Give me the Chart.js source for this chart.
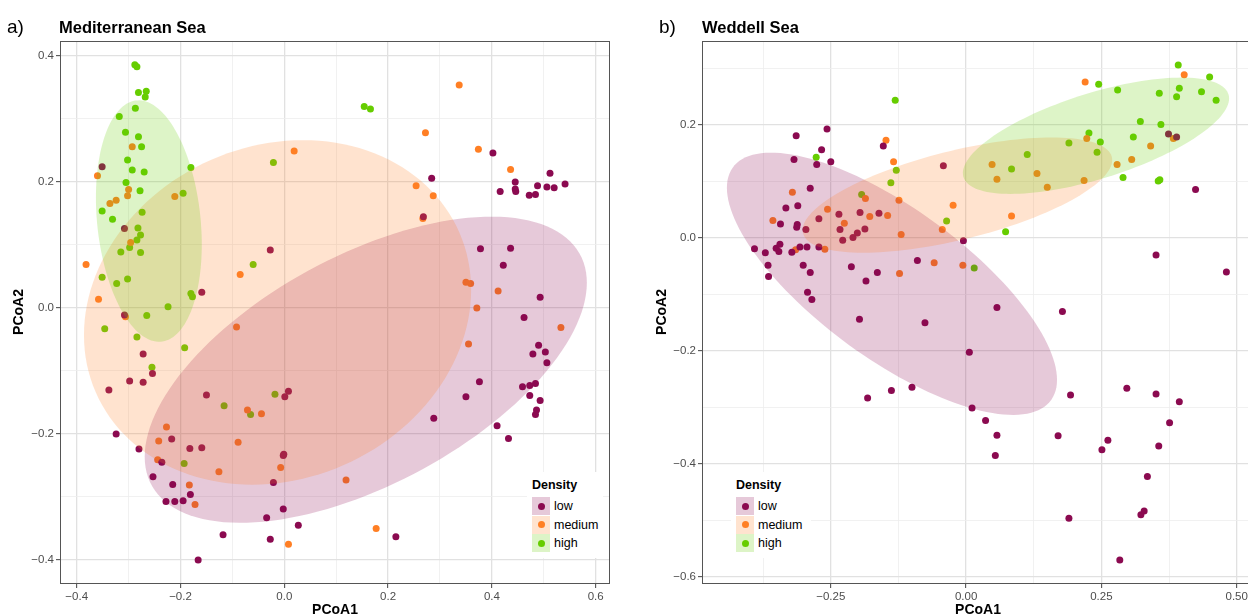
<!DOCTYPE html>
<html>
<head>
<meta charset="utf-8">
<script src="https://cdn.jsdelivr.net/npm/chart.js@4.4.1/dist/chart.umd.min.js"></script>
<style>
  html, body { margin: 0; padding: 0; background: #fff; }
  body { width: 1248px; height: 616px; overflow: hidden; position: relative;
         font-family: "Liberation Sans", Arial, Helvetica, sans-serif; color: #000; }
  canvas { position: absolute; top: 0; }
  .txt { position: absolute; white-space: nowrap; line-height: 1; }
  .tag { font-size: 19px; }
  .title { font-size: 16.5px; font-weight: bold; }
  .axt { font-size: 14px; font-weight: bold; width: 100px; text-align: center; }
  .ylab { height: 16px; line-height: 16px; transform: rotate(-90deg); }
  .legend { position: absolute; background: #fff; }
  .legend .head { position: absolute; left: 5px; top: 7px; font-size: 12.5px; font-weight: bold; line-height: 1; }
  .legend .key { position: absolute; left: 5px; width: 18px; height: 18px; }
  .legend .dot { position: absolute; left: 5.5px; top: 5.5px; width: 7px; height: 7px; border-radius: 50%; }
  .legend .lab { position: absolute; left: 27px; font-size: 12.5px; line-height: 18px; }
</style>
</head>
<body>
<canvas id="chartA" width="625" height="616" style="left:0"></canvas>
<canvas id="chartB" width="625" height="616" style="left:640px"></canvas>

<div class="txt tag" style="left:7px; top:17px">a)</div>
<div class="txt title" style="left:59px; top:19px">Mediterranean Sea</div>
<div class="txt tag" style="left:659px; top:17px">b)</div>
<div class="txt title" style="left:702px; top:19px">Weddell Sea</div>

<div class="txt axt" style="left:285px; top:602px">PCoA1</div>
<div class="txt axt" style="left:928px; top:602px">PCoA1</div>
<div class="txt axt ylab" style="left:-32px; top:304px">PCoA2</div>
<div class="txt axt ylab" style="left:611px; top:304px">PCoA2</div>

<div class="legend" id="legendA" style="left:527px; top:472px; width:76px; height:86px"></div>
<div class="legend" id="legendB" style="left:731px; top:472px; width:80px; height:86px"></div>

<script>
const groups = ['low', 'medium', 'high'];
const pointColors = ['#8B0A50', '#FF7F24', '#66CD00'];
const fillAlpha = 0.22;

// Mediterranean Sea
const medLowX = [-0.351, 0.402, 0.284, 0.512, 0.445, 0.488, 0.506, 0.520, 0.541, 0.416, 0.445, 0.446, 0.472, 0.484, 0.268, -0.308, -0.027, -0.159, -0.308, -0.272, -0.254, -0.298, -0.272, -0.338, -0.150, 0.008, 0.001, 0.378, 0.436, 0.422, 0.493, 0.462, 0.490, 0.479, 0.503, 0.506, 0.376, 0.459, 0.473, 0.484, 0.473, 0.493, 0.350, 0.486, 0.484, 0.288, 0.410, 0.432, -0.324, -0.217, -0.182, -0.159, -0.280, -0.236, -0.253, -0.215, -0.181, -0.228, -0.211, -0.195, -0.002, -0.001, -0.021, -0.002, -0.034, 0.027, -0.118, -0.027, -0.166, 0.215];
const medLowY = [0.224, 0.246, 0.206, 0.214, 0.200, 0.194, 0.192, 0.191, 0.197, 0.185, 0.189, 0.185, 0.179, 0.180, 0.145, 0.126, 0.092, 0.025, -0.011, -0.073, -0.104, -0.116, -0.118, -0.130, -0.138, -0.132, -0.141, 0.094, 0.095, 0.068, 0.017, -0.015, -0.059, -0.073, -0.070, -0.087, -0.117, -0.125, -0.123, -0.120, -0.139, -0.147, -0.141, -0.162, -0.169, -0.175, -0.187, -0.207, -0.200, -0.208, -0.223, -0.222, -0.224, -0.245, -0.268, -0.280, -0.296, -0.307, -0.307, -0.306, -0.234, -0.232, -0.277, -0.319, -0.333, -0.345, -0.360, -0.367, -0.400, -0.363];
const medMediumX = [-0.293, -0.360, -0.300, -0.302, 0.019, -0.211, -0.324, -0.336, 0.337, 0.272, 0.374, 0.436, 0.254, 0.287, 0.267, -0.296, -0.382, -0.085, -0.358, -0.306, -0.092, 0.350, 0.359, 0.412, 0.371, 0.533, 0.355, -0.227, -0.242, -0.244, -0.089, -0.071, -0.044, -0.126, -0.007, -0.183, -0.172, 0.008, 0.119, 0.177];
const medMediumY = [0.256, 0.210, 0.188, 0.178, 0.249, 0.177, 0.171, 0.166, 0.354, 0.278, 0.252, 0.220, 0.194, 0.178, 0.142, 0.104, 0.069, 0.053, 0.014, -0.014, -0.030, 0.041, 0.039, 0.027, 0.000, -0.031, -0.057, -0.189, -0.211, -0.241, -0.213, -0.162, -0.168, -0.260, -0.253, -0.281, -0.312, -0.375, -0.273, -0.350];
const medHighX = [-0.288, -0.284, -0.281, -0.266, -0.268, -0.287, -0.318, -0.306, -0.281, -0.275, -0.302, -0.293, -0.270, -0.305, -0.278, -0.180, -0.195, -0.021, 0.154, 0.166, -0.351, -0.274, -0.331, -0.282, -0.277, -0.284, -0.298, -0.315, -0.277, -0.060, -0.351, -0.323, -0.302, -0.180, -0.177, -0.224, -0.265, -0.346, -0.284, -0.192, -0.255, -0.018, -0.116, -0.065, -0.193];
const medHighY = [0.386, 0.383, 0.342, 0.344, 0.335, 0.317, 0.304, 0.279, 0.272, 0.256, 0.235, 0.219, 0.216, 0.199, 0.186, 0.223, 0.182, 0.231, 0.320, 0.316, 0.154, 0.152, 0.141, 0.127, 0.116, 0.108, 0.096, 0.089, 0.088, 0.069, 0.049, 0.039, 0.046, 0.023, 0.018, 0.002, -0.012, -0.033, -0.046, -0.063, -0.094, -0.137, -0.155, -0.169, -0.247];

// Weddell Sea
const wedLowX = [-0.314, -0.257, -0.267, -0.318, -0.276, -0.250, -0.153, -0.288, -0.042, -0.333, -0.311, -0.343, -0.312, -0.313, -0.296, -0.272, -0.235, -0.233, -0.228, -0.196, -0.187, -0.161, -0.209, -0.201, -0.391, -0.371, -0.351, -0.344, -0.346, -0.322, -0.307, -0.294, -0.272, -0.366, -0.301, -0.365, -0.288, -0.212, -0.185, -0.164, -0.090, -0.005, -0.293, -0.285, -0.197, 0.374, 0.389, 0.424, 0.351, 0.481, 0.057, 0.178, 0.006, 0.193, 0.297, 0.351, 0.394, 0.011, 0.036, 0.376, -0.076, -0.182, -0.138, -0.100, 0.057, 0.054, 0.170, 0.251, 0.262, 0.190, 0.284, 0.335, 0.323, 0.329, 0.356];
const wedLowY = [0.181, 0.193, 0.156, 0.139, 0.130, 0.135, 0.163, 0.088, 0.128, 0.053, 0.057, 0.025, 0.024, 0.019, 0.015, 0.034, 0.042, 0.015, -0.004, 0.045, 0.016, 0.044, 0.001, 0.009, -0.019, -0.026, -0.018, -0.011, -0.024, -0.025, -0.016, -0.016, -0.016, -0.048, -0.048, -0.068, -0.061, -0.051, -0.076, -0.061, -0.040, -0.005, -0.096, -0.109, -0.144, 0.184, 0.179, 0.086, -0.030, -0.060, -0.123, -0.130, -0.202, -0.278, -0.266, -0.276, -0.290, -0.301, -0.323, -0.327, -0.150, -0.283, -0.270, -0.264, -0.349, -0.385, -0.350, -0.375, -0.358, -0.496, -0.570, -0.422, -0.490, -0.483, -0.368];
const wedMediumX = [-0.148, -0.134, -0.321, -0.186, -0.256, -0.225, -0.178, -0.145, -0.124, -0.357, -0.120, -0.315, -0.261, -0.024, -0.044, -0.059, -0.123, -0.006, 0.220, 0.403, 0.223, 0.341, 0.383, 0.306, 0.279, 0.048, 0.131, 0.057, 0.150, 0.218, 0.084];
const wedMediumY = [0.173, 0.135, 0.081, 0.070, 0.051, 0.026, 0.038, 0.040, 0.067, 0.031, 0.006, -0.021, -0.020, 0.058, 0.015, -0.044, -0.063, -0.048, 0.276, 0.289, 0.176, 0.163, 0.176, 0.139, 0.130, 0.130, 0.114, 0.104, 0.090, 0.102, 0.039];
const wedHighX = [-0.131, -0.277, -0.129, -0.139, -0.193, -0.036, 0.015, 0.392, 0.450, 0.245, 0.280, 0.357, 0.394, 0.389, 0.435, 0.462, 0.322, 0.360, 0.309, 0.227, 0.248, 0.190, 0.242, 0.113, 0.084, 0.290, 0.355, 0.358, 0.073];
const wedHighY = [0.244, 0.143, 0.120, 0.098, 0.077, 0.030, -0.053, 0.306, 0.285, 0.272, 0.262, 0.256, 0.265, 0.250, 0.259, 0.244, 0.206, 0.201, 0.179, 0.186, 0.170, 0.168, 0.152, 0.148, 0.122, 0.107, 0.101, 0.103, 0.011];

// confidence ellipses: centre and two conjugate semi-axes, in data units (low, medium, high)
const medEllipseCentre = [[0.157, -0.098], [-0.013, -0.007], [-0.261, 0.138]];
const medEllipseAxisU = [[0.426, 0.138], [0.373, 0.036], [0.102, -0.037]];
const medEllipseAxisV = [[0, 0.200], [0, 0.271], [0, 0.188]];
const wedEllipseCentre = [[-0.137, -0.081], [-0.016, 0.076], [0.240, 0.181]];
const wedEllipseAxisU = [[0.305, -0.170], [0.286, 0.062], [0.246, 0.066]];
const wedEllipseAxisV = [[0, 0.158], [0, 0.081], [0, 0.079]];

// ticks (empty label = minor grid line)
const medTicksX = [-0.4, -0.3, -0.2, -0.1, 0, 0.1, 0.2, 0.3, 0.4, 0.5, 0.6];
const medLabelsX = ['\u22120.4', '', '\u22120.2', '', '0.0', '', '0.2', '', '0.4', '', '0.6'];
const medTicksY = [-0.4, -0.3, -0.2, -0.1, 0, 0.1, 0.2, 0.3, 0.4];
const medLabelsY = ['\u22120.4', '', '\u22120.2', '', '0.0', '', '0.2', '', '0.4'];
const wedTicksX = [-0.375, -0.25, -0.125, 0, 0.125, 0.25, 0.375, 0.5];
const wedLabelsX = ['', '\u22120.25', '', '0.00', '', '0.25', '', '0.50'];
const wedTicksY = [-0.6, -0.5, -0.4, -0.3, -0.2, -0.1, 0, 0.1, 0.2, 0.3];
const wedLabelsY = ['\u22120.6', '', '\u22120.4', '', '\u22120.2', '', '0.0', '', '0.2', ''];

const fontFamily = '"Liberation Sans", Arial, Helvetica, sans-serif';

function rgba(hex, a) {
    const n = parseInt(hex.slice(1), 16);
    return `rgba(${n >> 16},${(n >> 8) & 255},${n & 255},${a})`;
}

function toPoints(xs, ys) {
    return xs.map((x, i) => ({ x, y: ys[i] }));
}

function framePlugin(centres, axisU, axisV) {
    return {
        id: 'panelFrame',
        afterDatasetsDraw(chart) {
            const { ctx, chartArea: a, scales: { x, y } } = chart;
            ctx.save();
            ctx.beginPath();
            ctx.rect(a.left, a.top, a.width, a.height);
            ctx.clip();
            centres.forEach((c, g) => {
                const u = axisU[g], v = axisV[g];
                ctx.beginPath();
                for (let k = 0; k <= 144; k++) {
                    const t = k / 144 * Math.PI * 2;
                    const px = x.getPixelForValue(c[0] + u[0] * Math.cos(t) + v[0] * Math.sin(t));
                    const py = y.getPixelForValue(c[1] + u[1] * Math.cos(t) + v[1] * Math.sin(t));
                    if (k === 0) ctx.moveTo(px, py); else ctx.lineTo(px, py);
                }
                ctx.closePath();
                ctx.fillStyle = rgba(pointColors[g], fillAlpha);
                ctx.fill();
            });
            ctx.restore();
        },
        afterDraw(chart) {
            const { ctx, chartArea: a } = chart;
            ctx.save();
            ctx.strokeStyle = '#555';
            ctx.lineWidth = 1;
            ctx.strokeRect(Math.round(a.left) + 0.5, Math.round(a.top) + 0.5,
                           Math.round(a.width) - 1, Math.round(a.height) - 1);
            ctx.restore();
        }
    };
}

function axis(ticks, labels, min, max, fit) {
    return {
        type: 'linear',
        min, max,
        afterBuildTicks: s => { s.ticks = ticks.map(v => ({ value: v })); },
        afterFit: fit,
        border: { display: false },
        grid: {
            color: c => labels[c.index] === '' ? '#eeeeee' : '#e1e1e1',
            lineWidth: c => labels[c.index] === '' ? 0.8 : 1.3,
            tickLength: 4,
            tickColor: c => labels[c.index] === '' ? 'rgba(0,0,0,0)' : '#444',
            tickWidth: 1
        },
        ticks: {
            autoSkip: false, maxRotation: 0, minRotation: 0,
            padding: 2,
            color: '#4d4d4d',
            font: { size: 11.5, family: fontFamily },
            callback: (v, i) => labels[i]
        }
    };
}

function makePanel(id, series, ellipses, scales, padding) {
    const ctx = document.getElementById(id).getContext('2d');
    return new Chart(ctx, {
        type: 'scatter',
        data: {
            datasets: groups.map((g, i) => ({
                label: g,
                data: toPoints(series[i][0], series[i][1]),
                backgroundColor: pointColors[i],
                borderWidth: 0,
                pointRadius: 3.5,
                pointHoverRadius: 3.5
            }))
        },
        options: {
            responsive: false,
            animation: false,
            events: [],
            layout: { padding },
            plugins: { legend: { display: false }, tooltip: { enabled: false } },
            scales
        },
        plugins: [framePlugin(ellipses[0], ellipses[1], ellipses[2])]
    });
}

makePanel('chartA',
    [[medLowX, medLowY], [medMediumX, medMediumY], [medHighX, medHighY]],
    [medEllipseCentre, medEllipseAxisU, medEllipseAxisV],
    {
        x: axis(medTicksX, medLabelsX, -0.4322, 0.6276, s => { s.height = 32; }),
        y: axis(medTicksY, medLabelsY, -0.4381, 0.4238, s => { s.width = 60; })
    },
    { top: 41, right: 15, bottom: 0, left: 0 });

makePanel('chartB',
    [[wedLowX, wedLowY], [wedMediumX, wedMediumY], [wedHighX, wedHighY]],
    [wedEllipseCentre, wedEllipseAxisU, wedEllipseAxisV],
    {
        x: axis(wedTicksX, wedLabelsX, -0.488, 0.532, s => { s.height = 32; }),
        y: axis(wedTicksY, wedLabelsY, -0.6124, 0.3487, s => { s.width = 62; })
    },
    { top: 41, right: 11, bottom: 0, left: 0 });

// ggplot-style legends inside the panels
function buildLegend(id) {
    const box = document.getElementById(id);
    box.innerHTML = '<div class="head">Density</div>';
    groups.forEach((g, i) => {
        const top = 25 + i * 18.5;
        box.innerHTML +=
            `<div class="key" style="top:${top}px; background:${rgba(pointColors[i], fillAlpha)}">` +
            `<div class="dot" style="background:${pointColors[i]}"></div></div>` +
            `<div class="lab" style="top:${top}px">${g}</div>`;
    });
}
buildLegend('legendA');
buildLegend('legendB');
</script>
</body>
</html>
